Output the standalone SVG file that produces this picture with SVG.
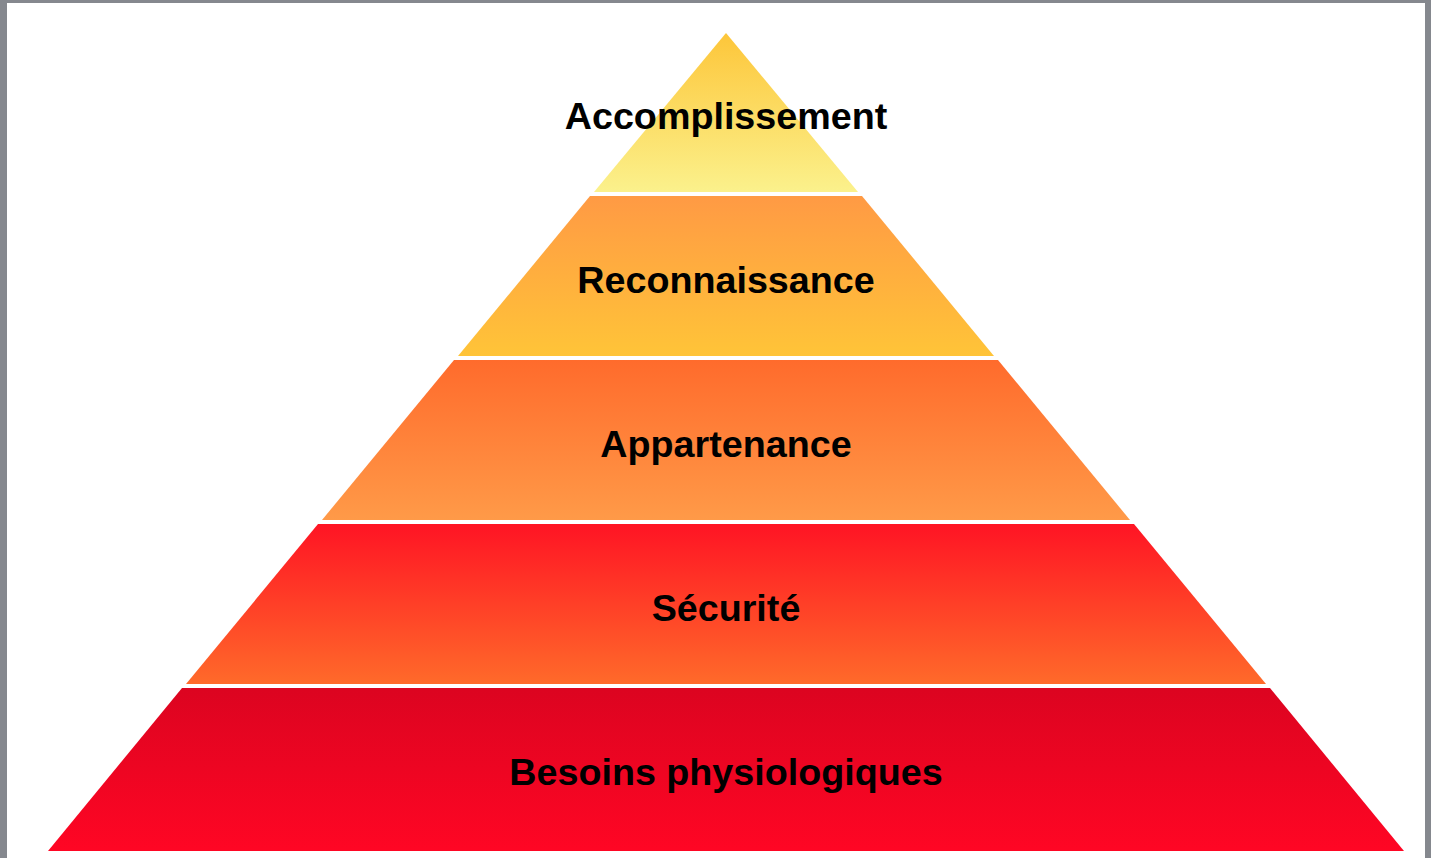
<svg xmlns="http://www.w3.org/2000/svg" width="1431" height="858" viewBox="0 0 1431 858">
<defs>
<linearGradient id="g1" x1="0" y1="0" x2="0" y2="1"><stop offset="0" stop-color="#fdc63a"/><stop offset="1" stop-color="#fbf18c"/></linearGradient>
<linearGradient id="g2" x1="0" y1="0" x2="0" y2="1"><stop offset="0" stop-color="#ff9a44"/><stop offset="1" stop-color="#ffc438"/></linearGradient>
<linearGradient id="g3" x1="0" y1="0" x2="0" y2="1"><stop offset="0" stop-color="#ff6b2c"/><stop offset="1" stop-color="#ff9a48"/></linearGradient>
<linearGradient id="g4" x1="0" y1="0" x2="0" y2="1"><stop offset="0" stop-color="#ff1424"/><stop offset="1" stop-color="#ff6a2a"/></linearGradient>
<linearGradient id="g5" x1="0" y1="0" x2="0" y2="1"><stop offset="0" stop-color="#dc0420"/><stop offset="1" stop-color="#ff0624"/></linearGradient>
</defs>
<style>
text{font-family:"Liberation Sans",Arial,sans-serif;font-weight:bold;font-size:37.7px;fill:#000;text-anchor:middle}
</style>
<rect x="0" y="0" width="1431" height="858" fill="#85888e"/>
<rect x="7" y="3" width="1418" height="855" fill="#ffffff"/>
<g id="layer1"><polygon points="726,33 858,192 594,192" fill="url(#g1)"/><text x="726" y="129">Accomplissement</text></g>
<g id="layer2"><polygon points="590,196 862,196 994,356 458,356" fill="url(#g2)"/><text x="726" y="293">Reconnaissance</text></g>
<g id="layer3"><polygon points="454,360 998,360 1130,520 322,520" fill="url(#g3)"/><text x="726" y="457">Appartenance</text></g>
<g id="layer4"><polygon points="318,524 1134,524 1266,684 186,684" fill="url(#g4)"/><text x="726" y="621">Sécurité</text></g>
<g id="layer5"><polygon points="182,688 1270,688 1404,851 48,851" fill="url(#g5)"/><text x="726" y="785">Besoins physiologiques</text></g>
</svg>
